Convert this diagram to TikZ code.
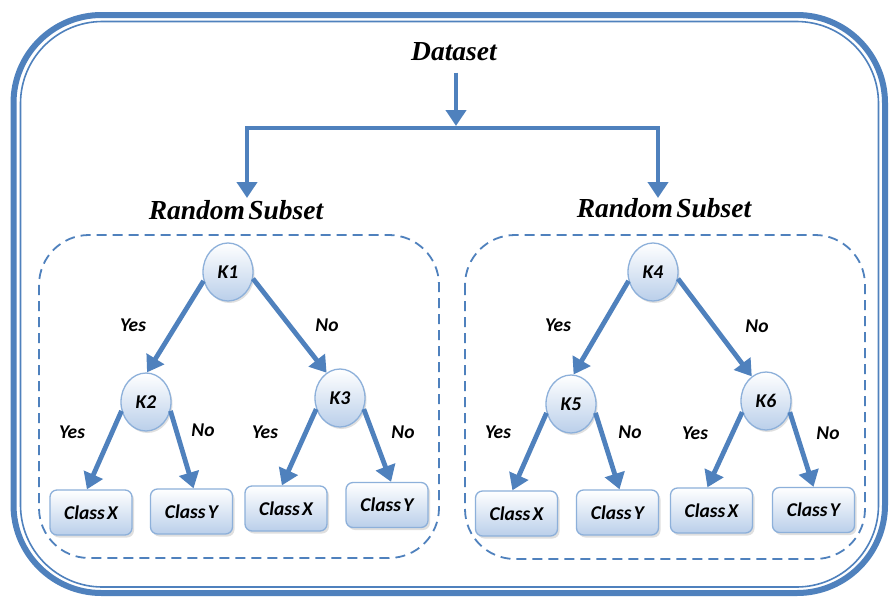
\documentclass[tikz,border=0pt]{standalone}
\usepackage{fontspec}
\setmainfont{Liberation Serif}
\newfontfamily\calfont{Carlito}
\usetikzlibrary{shapes.geometric,arrows.meta,shadows}
\definecolor{mblue}{HTML}{4F81BD}
\definecolor{lblue}{HTML}{8DB0DA}
\definecolor{fblue}{HTML}{BACFEA}
\begin{document}
\begin{tikzpicture}[x=1pt,y=-1pt,
  title/.style={font=\fontsize{27.5}{30}\selectfont\bfseries\itshape},
  lbl/.style={font=\calfont\fontsize{19.5}{22}\selectfont\bfseries\itshape},
  knode/.style={ellipse, draw=lblue, line width=1.3pt, top color=white, bottom color=fblue,
    minimum width=50pt, minimum height=58pt, inner sep=0pt,
    drop shadow={shadow xshift=1.5pt, shadow yshift=-2pt, opacity=0.25}, lbl},
  cbox/.style={rectangle, rounded corners=7pt, draw=lblue, line width=1.3pt, top color=white, bottom color=fblue,
    minimum width=82pt, minimum height=45pt, inner sep=0pt,
    drop shadow={shadow xshift=2pt, shadow yshift=-2.5pt, opacity=0.25}, lbl},
  arr/.style={draw=mblue, line width=4.8pt, -{Triangle[length=16pt,width=20pt]}},
  dbox/.style={draw=mblue, line width=1.8pt, dash pattern=on 10pt off 6pt, rounded corners=50pt},
]
\useasboundingbox (0,0) rectangle (889,598);
\fill[white] (0,0) rectangle (889,598);
% outer frame
\draw[mblue, line width=6pt, rounded corners=88pt] (13.5,15) rectangle (885,593);
\draw[mblue, line width=1.6pt, rounded corners=82pt] (20.5,21.5) rectangle (878.5,587);
% dashed groups
\draw[dbox] (39,235) rectangle (439,558);
\draw[dbox] (465,235) rectangle (865,559);
% titles
\node[title] (ds) at (454,52) {Dataset};
\node[title] (rs1) at (236,210) {Random\hspace{0.12em}Subset};
\node[title] (rs2) at (664,208) {Random\hspace{0.12em}Subset};
\coordinate (jt) at (456,126);
\coordinate (j) at (456,128);
\coordinate (lt) at (247,198);
\coordinate (rt) at (658,198);
\draw[arr, shorten <=8pt] (ds.south -| jt) -- (jt);
\draw[arr] (j) -| (lt);
\draw[arr] (j) -| (rt);
% left tree
\node[knode] (k1) at (228,272) {K1};
\node[knode] (k2) at (146,402) {K2};
\node[knode] (k3) at (340,398) {K3};
\node[cbox] (b1) at (91,512.5) {Class\hspace{0.12em}X};
\node[cbox] (b2) at (191.5,511.5) {Class\hspace{0.12em}Y};
\node[cbox] (b3) at (286,508.5) {Class\hspace{0.12em}X};
\node[cbox] (b4) at (387,505) {Class\hspace{0.12em}Y};
\draw[arr] (k1.200) -- (k2.88);
\draw[arr] (k1.345) -- (k3.118);
\draw[arr] (k2.200) -- (b1.100);
\draw[arr] (k2.340) -- (b2.85);
\draw[arr] (k3.205) -- (b3.100);
\draw[arr] (k3.335) -- (b4.80);
\node[lbl] (l1) at (133,325) {Yes};
\node[lbl] (l2) at (327,325) {No};
\node[lbl] (l3) at (72,432) {Yes};
\node[lbl] (l4) at (203,430) {No};
\node[lbl] (l5) at (265,432) {Yes};
\node[lbl] (l6) at (403,432) {No};
% right tree
\node[knode] (k4) at (653,272) {K4};
\node[knode] (k5) at (571,404) {K5};
\node[knode] (k6) at (766,401) {K6};
\node[cbox] (b5) at (516.5,513.5) {Class\hspace{0.12em}X};
\node[cbox] (b6) at (617.5,512.5) {Class\hspace{0.12em}Y};
\node[cbox] (b7) at (711.5,510.5) {Class\hspace{0.12em}X};
\node[cbox] (b8) at (813.5,510) {Class\hspace{0.12em}Y};
\draw[arr] (k4.200) -- (k5.85);
\draw[arr] (k4.345) -- (k6.120);
\draw[arr] (k5.200) -- (b5.100);
\draw[arr] (k5.340) -- (b6.85);
\draw[arr] (k6.205) -- (b7.100);
\draw[arr] (k6.335) -- (b8.90);
\node[lbl] (l7) at (558,325) {Yes};
\node[lbl] (l8) at (757,326) {No};
\node[lbl] (l9) at (498,432) {Yes};
\node[lbl] (l10) at (630,432) {No};
\node[lbl] (l11) at (695,433) {Yes};
\node[lbl] (l12) at (828,433) {No};
\end{tikzpicture}
\end{document}
